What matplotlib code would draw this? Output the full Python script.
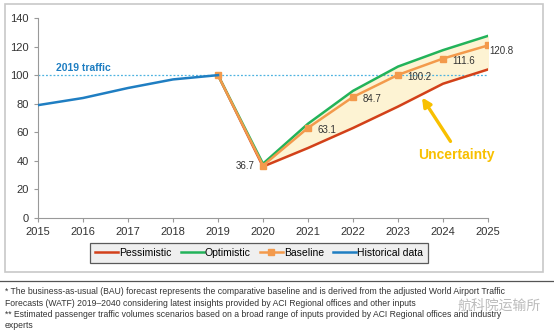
import matplotlib.pyplot as plt
from matplotlib.patches import Rectangle
from matplotlib.lines import Line2D

plt.rcParams['font.family'] = ['Liberation Sans', 'DejaVu Sans']

# Data
hist_years = [2015, 2016, 2017, 2018, 2019]
hist_vals = [79, 84, 91, 97, 100]
fc_years = [2019, 2020, 2021, 2022, 2023, 2024, 2025]
pessimistic = [100, 36, 49, 63, 78, 94, 104]
optimistic = [100, 38, 66, 89, 106, 117.5, 127.5]
baseline = [100, 36.7, 63.1, 84.7, 100.2, 111.6, 120.8]
base_labels = ["36.7", "63.1", "84.7", "100.2", "111.6", "120.8"]
x_ticks = list(range(2015, 2026))
y_ticks = [0, 20, 40, 60, 80, 100, 120, 140]

c_red = "#d2401a"
c_green = "#22b35a"
c_orange = "#f39a4c"
c_blue = "#1f7ec2"
c_fill = "#fdf3d3"
c_gold = "#f8c000"

fig = plt.figure(figsize=(5.54, 3.32), dpi=100)
# outer frame round the chart
fig.patches.append(Rectangle((5 / 554, 1 - 272 / 332), 538 / 554, 268 / 332,
                             transform=fig.transFigure, fill=False,
                             edgecolor="#c8c8c8", linewidth=1.2))
fig.add_artist(Line2D([0, 1], [1 - 281 / 332] * 2, transform=fig.transFigure,
                      color="#555555", linewidth=0.9))

ax = fig.add_axes([38 / 554, 1 - 218 / 332, 450 / 554, 200 / 332])
ax.set_xlim(2015, 2025)
ax.set_ylim(0, 140)

ax.fill_between(fc_years[1:], pessimistic[1:], optimistic[1:], color=c_fill, zorder=1)
ax.axhline(100, color="#4db3e0", linestyle=(0, (1.5, 1.5)), linewidth=0.9, zorder=2)
ax.text(2015.4, 103, "2019 traffic", color=c_blue, fontsize=7.5, fontweight="bold")

ax.plot(fc_years, pessimistic, color=c_red, linewidth=1.8, zorder=3, label="Pessimistic")
ax.plot(fc_years, optimistic, color=c_green, linewidth=1.8, zorder=3, label="Optimistic")
ax.plot(fc_years, baseline, color=c_orange, linewidth=1.8, marker="s", markersize=5,
        zorder=4, label="Baseline")
ax.plot(hist_years, hist_vals, color=c_blue, linewidth=1.8, zorder=5, label="Historical data")

# data labels on baseline
ax.annotate(base_labels[0], (fc_years[1], baseline[1]), xytext=(-6, 0),
            textcoords="offset points", ha="right", va="center", fontsize=7, color="#333333")
for yr, v, lab in zip(fc_years[2:6], baseline[2:6], base_labels[1:5]):
    ax.annotate(lab, (yr, v), xytext=(7, -1.5), textcoords="offset points",
                ha="left", va="center", fontsize=7, color="#333333")
ax.annotate(base_labels[5], (fc_years[6], baseline[6]), xytext=(1, -4),
            textcoords="offset points", ha="left", va="center", fontsize=7, color="#333333")

ax.annotate("", xy=(2023.5, 86), xytext=(2024.2, 52),
            arrowprops=dict(arrowstyle="-|>", color=c_gold, lw=2.4, mutation_scale=13))
ax.text(2024.3, 44, "Uncertainty", color=c_gold, fontsize=10, fontweight="bold",
        ha="center", va="center")

ax.set_xticks(x_ticks)
ax.set_yticks(y_ticks)
ax.tick_params(labelsize=8, colors="#333333", length=3, color="#999999")
for s in ["top", "right"]:
    ax.spines[s].set_visible(False)
for s in ["left", "bottom"]:
    ax.spines[s].set_color("#999999")

leg = fig.legend(loc="center", bbox_to_anchor=(259 / 554, 1 - 253 / 332), ncol=4,
                 fontsize=7.5, frameon=True, fancybox=False, handlelength=2.2,
                 handletextpad=0.1, columnspacing=0.9, borderpad=0.45)
leg.get_frame().set_facecolor("#ececec")
leg.get_frame().set_edgecolor("#333333")
leg.get_frame().set_linewidth(0.9)

notes = ["* The business-as-usual (BAU) forecast represents the comparative baseline and is derived from the adjusted World Airport Traffic",
         "Forecasts (WATF) 2019\u20132040 considering latest insights provided by ACI Regional offices and other inputs",
         "** Estimated passenger traffic volumes scenarios based on a broad range of inputs provided by ACI Regional offices and industry",
         "experts"]
for i, t in enumerate(notes):
    fig.text(5 / 554, 1 - (292 + i * 11.3) / 332, t, fontsize=6.2, color="#333333", va="center")

fig.text(458 / 554, 1 - 306 / 332, "航科院运输所", fontsize=10, color="#aaaaaa", va="center",
         family=["Noto Sans CJK SC", "DejaVu Sans"], alpha=0.8)

fig.savefig("out.png", dpi=100)
